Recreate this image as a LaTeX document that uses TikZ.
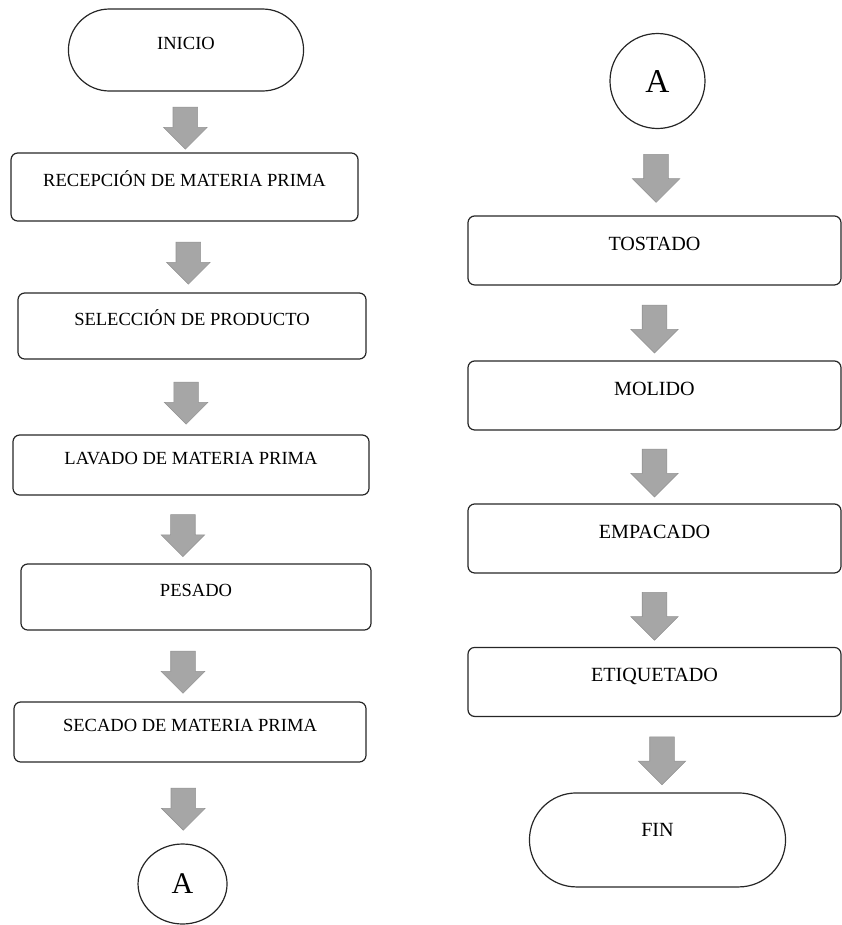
\documentclass[tikz,border=0pt]{standalone}
\usepackage{fontspec}
\setmainfont{Liberation Serif}
\usetikzlibrary{shapes, arrows, positioning, calc}
\tikzset{
    caja/.style={
        rectangle,
        rounded corners=5pt,
        line width=0.9pt,
        draw=black!85,
        font=\fontsize{13.9}{16}\selectfont,
        text height=9.2pt,
        text depth=10.5pt,
    },
    cajab/.style={
        caja,
        minimum width=279.75pt,
        minimum height=51.75pt,
        font=\fontsize{15.1}{18}\selectfont,
        text height=10pt,
    },
    terminal/.style={
        rounded rectangle,
        line width=0.9pt,
        draw=black!85,
    },
    conector/.style={
        ellipse,
        line width=0.9pt,
        draw=black!85,
        inner sep=0pt,
    },
    flecha/.style={
        single arrow,
        shape border rotate=270,
        fill=gray!70,
        draw=gray!85,
        line width=0.4pt,
        inner xsep=9pt,
        inner ysep=0pt,
        single arrow tip angle=90,
        single arrow head extend=7.1pt,
        minimum height=31.5pt,
        minimum width=32.25pt,
    },
    flechab/.style={
        flecha,
        single arrow head extend=8.6pt,
        minimum height=36pt,
        minimum width=35.25pt,
    },
}
\begin{document}
\begin{tikzpicture}[x=0.75pt, y=-0.75pt]
    \useasboundingbox (0,0) rectangle (842,925);

    % columna izquierda
    \node [terminal, minimum width=183pt, minimum height=61.5pt, font=\fontsize{13.9}{16}\selectfont, text height=9.2pt, text depth=10.5pt] (inicio) at (186,50) {INICIO};
    \node [caja, minimum width=260.25pt, minimum height=51pt] (recepcion) [node distance=102.75pt, below of=inicio, xshift=-1.1pt] {RECEPCIÓN DE MATERIA PRIMA};
    \node [caja, minimum width=261pt, minimum height=49.5pt] (seleccion) [node distance=104.25pt, below of=recepcion, xshift=5.6pt] {SELECCIÓN DE PRODUCTO};
    \node [caja, minimum width=267pt, minimum height=45pt] (lavado) [node distance=104.25pt, below of=seleccion, xshift=-0.75pt] {LAVADO DE MATERIA PRIMA};
    \node [caja, minimum width=262.5pt, minimum height=49.5pt] (pesado) [node distance=99pt, below of=lavado, xshift=3.75pt] {PESADO};
    \node [caja, minimum width=264pt, minimum height=45pt] (secado) [node distance=101.25pt, below of=pesado, xshift=-4.5pt] {SECADO DE MATERIA PRIMA};
    \node [conector, minimum width=66.75pt, minimum height=60pt, font=\fontsize{22.5}{27}\selectfont] (conA) [node distance=114pt, below of=secado, xshift=-5.6pt] {A};

    \node [flecha] (f1) at ($(inicio.south)!0.5!(recepcion.north)$) {};
    \node [flecha] (f2) at ($(recepcion.south)!0.5!(seleccion.north)$) {};
    \node [flecha, xshift=-4.1pt] (f3) at ($(seleccion.south)!0.5!(lavado.north)$) {};
    \node [flecha, xshift=-7.9pt] (f4) at ($(lavado.south)!0.5!(pesado.north)$) {};
    \node [flecha, xshift=-7.5pt] (f5) at ($(pesado.south)!0.5!(secado.north)$) {};
    \node [flecha, xshift=-2.25pt] (f6) at ($(secado.south)!0.5!(conA.north)$) {};

    % columna derecha
    \node [conector, minimum size=71.25pt, font=\fontsize{25}{30}\selectfont] (conB) at (657.5,81) {A};
    \node [cajab] (tostado) [node distance=127.1pt, below of=conB, xshift=-2.25pt] {TOSTADO};
    \node [cajab] (molido) [node distance=108.75pt, below of=tostado] {MOLIDO};
    \node [cajab] (empacado) [node distance=107.25pt, below of=molido] {EMPACADO};
    \node [cajab] (etiquetado) [node distance=107.6pt, below of=empacado] {ETIQUETADO};
    \node [terminal, minimum width=198.75pt, minimum height=70.5pt, font=\fontsize{15.1}{18}\selectfont, text height=10pt, text depth=15pt] (fin) [node distance=118.5pt, below of=etiquetado, xshift=2.25pt] {FIN};

    \node [flechab] (g1) at ($(conB.south)!0.5!(tostado.north)$) {};
    \node [flechab] (g2) at ($(tostado.south)!0.5!(molido.north)$) {};
    \node [flechab] (g3) at ($(molido.south)!0.5!(empacado.north)$) {};
    \node [flechab] (g4) at ($(empacado.south)!0.5!(etiquetado.north)$) {};
    \node [flechab, xshift=4.5pt] (g5) at ($(etiquetado.south)!0.5!(fin.north)$) {};
\end{tikzpicture}
\end{document}
